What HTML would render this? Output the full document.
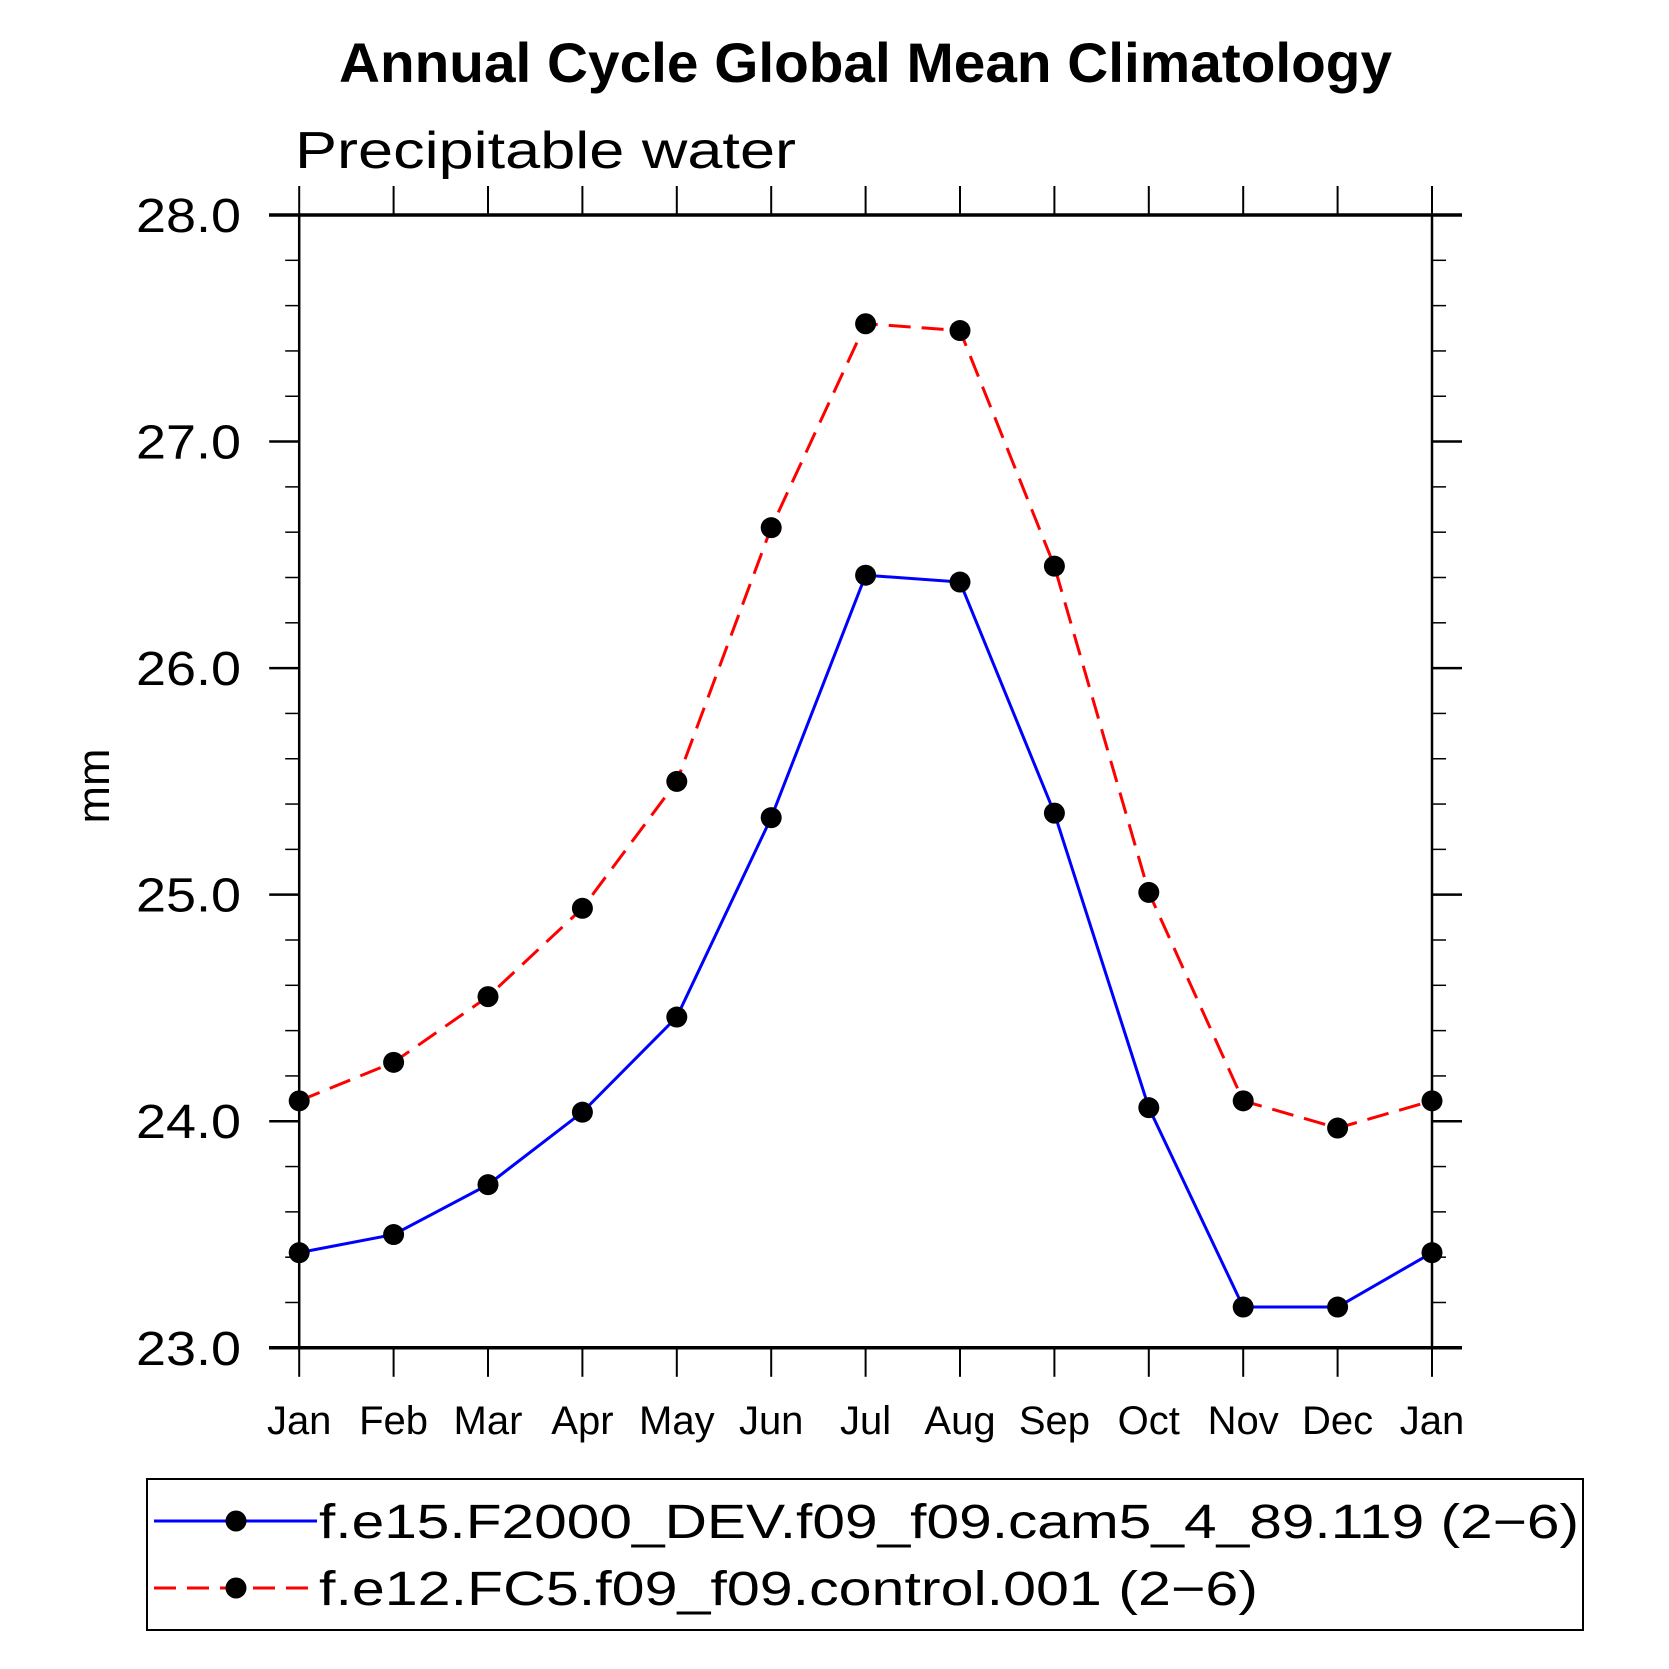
<!DOCTYPE html>
<html><head><meta charset="utf-8"><style>html,body{margin:0;padding:0;background:#fff}svg{display:block}text{font-family:"Liberation Sans",sans-serif}</style></head>
<body>
<svg id="chart" width="1669" height="1669" viewBox="0 0 1669 1669" xmlns="http://www.w3.org/2000/svg">
<text x="339" y="82" font-size="56" font-weight="bold" textLength="1053" lengthAdjust="spacingAndGlyphs">Annual Cycle Global Mean Climatology</text>
<text x="295" y="168" font-size="52" textLength="501" lengthAdjust="spacingAndGlyphs">Precipitable water</text>
<text transform="translate(109,786) rotate(-90)" text-anchor="middle" font-size="45">mm</text>
<g id="axes"></g>
<g id="series"></g>
<rect x="147" y="1479" width="1436" height="151" fill="none" stroke="#000" stroke-width="2"/>
<g>
<line x1="154" y1="1521" x2="317" y2="1521" stroke="#0000ff" stroke-width="3"/>
<circle cx="236" cy="1521" r="10.5" fill="#000"/>
<text x="319" y="1538" font-size="48" textLength="1260" lengthAdjust="spacingAndGlyphs">f.e15.F2000_DEV.f09_f09.cam5_4_89.119 (2−6)</text>
</g>
<g>
<line x1="154" y1="1588" x2="317" y2="1588" stroke="#ff0000" stroke-width="3" stroke-dasharray="22,11"/>
<circle cx="236" cy="1588" r="10.5" fill="#000"/>
<text x="319" y="1605" font-size="48" textLength="939" lengthAdjust="spacingAndGlyphs">f.e12.FC5.f09_f09.control.001 (2−6)</text>
</g>
</svg>
<script>
const months = ["Jan","Feb","Mar","Apr","May","Jun","Jul","Aug","Sep","Oct","Nov","Dec","Jan"];
const blueValues = [23.42,23.50,23.72,24.04,24.46,25.34,26.41,26.38,25.36,24.06,23.18,23.18,23.42];
const redValues = [24.09,24.26,24.55,24.94,25.50,26.62,27.52,27.49,26.45,25.01,24.09,23.97,24.09];
const yTicks = [23,24,25,26,27,28];
const yTickLabels = ["23.0","24.0","25.0","26.0","27.0","28.0"];

const NS="http://www.w3.org/2000/svg";
const L=299.2,R=1432,T=215,B=1347.8,yMin=23,yMax=28;
const xs=i=>L+(R-L)*i/(months.length-1);
const ys=v=>B-(v-yMin)/(yMax-yMin)*(B-T);
function mk(tag,attrs,parent){const e=document.createElementNS(NS,tag);for(const k in attrs)e.setAttribute(k,attrs[k]);parent.appendChild(e);return e;}
const ax=document.getElementById('axes');
const frame=mk('rect',{x:L,y:T,width:R-L,height:B-T,fill:'none',stroke:'#000','stroke-width':2.5},ax);


mk('line',{x1:269,y1:T,x2:1462,y2:T,stroke:'#000','stroke-width':3.5},ax);
mk('line',{x1:269,y1:B,x2:1462,y2:B,stroke:'#000','stroke-width':3.5},ax);
months.forEach((m,i)=>{
  const x=xs(i);
  mk('line',{x1:x,y1:B,x2:x,y2:B+29,stroke:'#000','stroke-width':2},ax);
  mk('line',{x1:x,y1:T,x2:x,y2:T-29,stroke:'#000','stroke-width':2},ax);
  const t=mk('text',{x:x,y:1434,'font-size':40,'text-anchor':'middle'},ax);
  t.textContent=m;
  
  
});
for(let v=yMin;v<=yMax+1e-9;v+=0.2){
  const y=ys(v);
  mk('line',{x1:L-14,y1:y,x2:L,y2:y,stroke:'#000','stroke-width':1.5},ax);
  mk('line',{x1:R,y1:y,x2:R+14,y2:y,stroke:'#000','stroke-width':1.5},ax);
}
yTicks.forEach((v,i)=>{
  const y=ys(v);
  mk('line',{x1:L-30,y1:y,x2:L,y2:y,stroke:'#000','stroke-width':2.5},ax);
  mk('line',{x1:R,y1:y,x2:R+30,y2:y,stroke:'#000','stroke-width':2.5},ax);
  const t=mk('text',{x:136,y:y+17,'font-size':48,textLength:105,lengthAdjust:'spacingAndGlyphs'},ax);
  t.textContent=yTickLabels[i];
  
  
});
const sg=document.getElementById('series');
function series(vals,color,dash,name){
  const g=mk('g',{},sg);
  
  
  const pts=vals.map((v,i)=>xs(i)+','+ys(v)).join(' ');
  const a={points:pts,fill:'none',stroke:color,'stroke-width':3};
  if(dash)a['stroke-dasharray']=dash;
  mk('polyline',a,g);
  vals.forEach((v,i)=>{
    const c=mk('circle',{cx:xs(i),cy:ys(v),r:10.5,fill:'#000'},g);
    
    
  });
}
series(redValues,'#ff0000','22,11','series-control');
series(blueValues,'#0000ff',null,'series-dev');
</script>
</body></html>
